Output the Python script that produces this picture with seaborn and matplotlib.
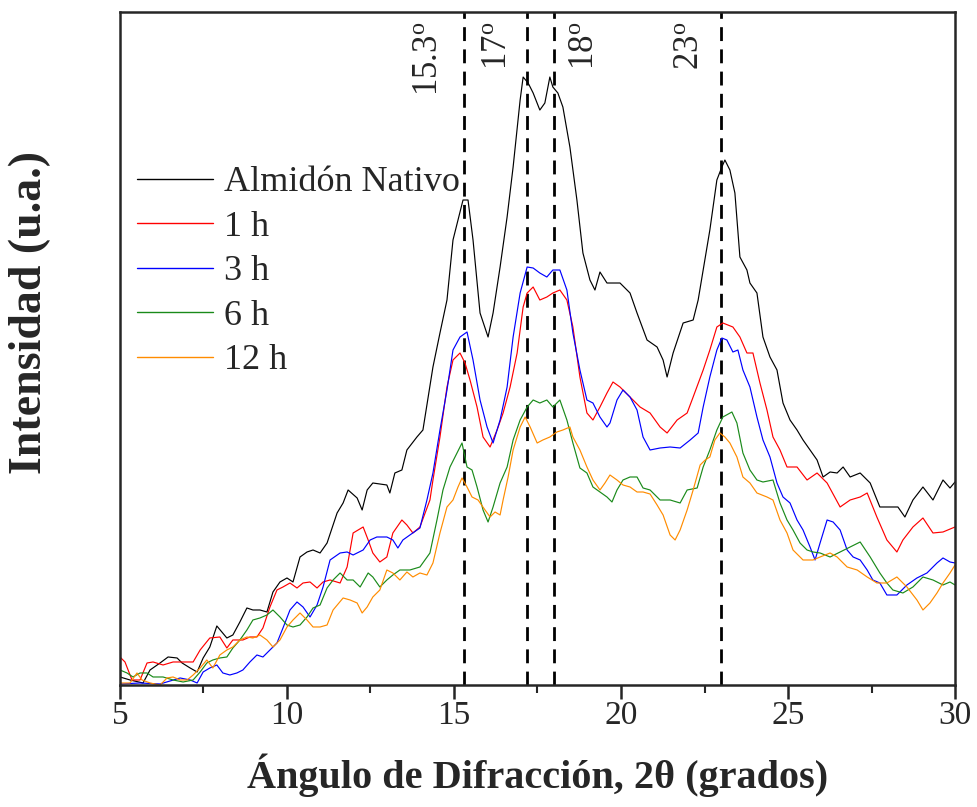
import numpy as np
import pandas as pd
import matplotlib
matplotlib.use("Agg")
import matplotlib.pyplot as plt
import seaborn as sns

# --- Diffractograms (2θ in degrees, intensity in arbitrary units) ---
nativo_2theta = [5.00, 5.30, 5.69, 5.90, 6.20, 6.44, 6.71, 6.86, 7.10, 7.31, 7.49, 7.69, 7.90, 8.05, 8.20,
                 8.38, 8.59, 8.80, 8.98, 9.19, 9.40, 9.58, 9.79, 10.00, 10.18, 10.39, 10.60, 10.78, 10.99,
                 11.20, 11.50, 11.68, 11.83, 12.10, 12.25, 12.40, 12.57, 12.99, 13.08, 13.23, 13.44, 13.59,
                 13.89, 14.07, 14.37, 14.58, 14.79, 14.97, 15.12, 15.27, 15.42, 15.57, 15.78, 16.02, 16.17,
                 16.38, 16.59, 16.77, 16.98, 17.07, 17.22, 17.37, 17.57, 17.72, 17.87, 17.96, 18.11, 18.26,
                 18.47, 18.68, 18.86, 19.07, 19.22, 19.37, 19.58, 19.97, 20.27, 20.48, 20.78, 21.08, 21.26,
                 21.38, 21.56, 21.86, 22.16, 22.31, 22.46, 22.66, 22.87, 23.02, 23.11, 23.26, 23.41, 23.56,
                 23.77, 23.86, 24.07, 24.25, 24.46, 24.67, 24.85, 25.06, 25.27, 25.45, 25.66, 25.87, 26.05,
                 26.26, 26.47, 26.65, 26.86, 27.16, 27.46, 27.75, 28.05, 28.29, 28.50, 28.74, 29.04, 29.34,
                 29.64, 29.85, 30.00]
nativo_int = [8, 5, 2, 15, 22, 28, 27, 22, 17, 13, 27, 38, 59, 53, 47,
              50, 63, 77, 75, 75, 73, 93, 103, 107, 103, 128, 133, 135, 132,
              142, 172, 182, 195, 187, 175, 195, 202, 200, 192, 212, 215, 235,
              248, 255, 318, 352, 385, 445, 465, 485, 485, 445, 372, 348, 372,
              418, 468, 518, 585, 608, 602, 592, 575, 582, 608, 598, 592, 578,
              538, 485, 432, 405, 395, 413, 402, 402, 392, 372, 345, 338, 325,
              308, 332, 362, 365, 385, 415, 455, 505, 518, 525, 515, 492, 428,
              415, 402, 392, 348, 328, 315, 282, 265, 255, 245, 235, 225, 208,
              213, 212, 218, 208, 212, 202, 178, 178, 178, 168, 185, 198, 185,
              205, 197, 203]

h1_2theta = [5.00, 5.15, 5.36, 5.60, 5.81, 5.99, 6.29, 6.59, 6.89, 7.19, 7.40, 7.69, 7.99, 8.20, 8.38,
             8.68, 8.89, 9.10, 9.28, 9.49, 9.70, 9.88, 10.09, 10.30, 10.48, 10.69, 10.90, 11.08, 11.29,
             11.59, 11.80, 11.98, 12.28, 12.43, 12.57, 12.78, 12.99, 13.17, 13.44, 13.59, 13.77, 13.98,
             14.28, 14.37, 14.58, 14.79, 14.97, 15.18, 15.33, 15.48, 15.69, 15.87, 16.08, 16.29, 16.47,
             16.68, 16.89, 17.07, 17.19, 17.37, 17.57, 17.78, 17.96, 18.17, 18.38, 18.56, 18.77, 18.98,
             19.16, 19.37, 19.58, 19.76, 19.97, 20.27, 20.57, 20.87, 21.17, 21.38, 21.68, 21.98, 22.16,
             22.46, 22.66, 22.87, 23.05, 23.35, 23.56, 23.77, 23.95, 24.16, 24.37, 24.55, 24.76, 24.97,
             25.27, 25.57, 25.87, 26.17, 26.56, 26.86, 27.16, 27.37, 27.66, 27.96, 28.26, 28.44, 28.74,
             29.04, 29.34, 29.64, 30.00]
h1_int = [28, 23, 5, 5, 22, 23, 20, 23, 23, 23, 35, 47, 48, 37, 45,
          45, 48, 48, 57, 78, 95, 98, 102, 97, 102, 103, 97, 103, 105,
          102, 118, 152, 158, 145, 132, 123, 128, 152, 165, 160, 152, 158,
          185, 205, 248, 298, 325, 332, 322, 305, 278, 248, 238, 255, 272,
          298, 332, 378, 392, 398, 385, 388, 392, 395, 385, 358, 308, 272,
          265, 278, 292, 303, 298, 288, 278, 272, 258, 252, 265, 272, 288,
          315, 335, 358, 362, 358, 348, 332, 332, 302, 275, 248, 235, 218,
          218, 205, 212, 202, 178, 185, 188, 192, 168, 145, 133, 145, 158,
          167, 152, 153, 158]

h3_2theta = [5.00, 5.60, 6.20, 6.80, 7.10, 7.31, 7.49, 7.69, 7.90, 8.08, 8.29, 8.50, 8.68, 8.89, 9.10,
             9.28, 9.49, 9.70, 9.88, 10.09, 10.30, 10.48, 10.69, 10.90, 11.08, 11.29, 11.59, 11.80,
             11.98, 12.28, 12.49, 12.69, 12.99, 13.17, 13.32, 13.47, 13.68, 13.98, 14.19, 14.37, 14.58,
             14.79, 14.97, 15.18, 15.39, 15.57, 15.78, 15.99, 16.17, 16.38, 16.59, 16.77, 16.98, 17.19,
             17.37, 17.57, 17.78, 17.96, 18.17, 18.38, 18.56, 18.77, 18.98, 19.16, 19.37, 19.58, 19.67,
             19.88, 20.06, 20.27, 20.48, 20.66, 20.87, 21.17, 21.47, 21.77, 22.07, 22.31, 22.46, 22.66,
             22.87, 23.02, 23.17, 23.35, 23.50, 23.65, 23.86, 24.07, 24.25, 24.46, 24.67, 24.85, 25.06,
             25.27, 25.45, 25.66, 25.81, 25.96, 26.17, 26.35, 26.56, 26.77, 26.95, 27.16, 27.37, 27.54,
             27.75, 27.96, 28.26, 28.56, 28.86, 29.16, 29.46, 29.64, 29.85, 30.00]
h3_int = [1, 2, 1, 7, 5, 2, 13, 17, 20, 12, 10, 12, 15, 23, 30,
          28, 35, 42, 57, 75, 83, 78, 68, 80, 98, 125, 132, 133,
          130, 135, 145, 148, 148, 145, 137, 145, 150, 157, 185, 212, 255,
          295, 335, 348, 353, 325, 285, 258, 242, 265, 298, 348, 392, 418,
          417, 412, 408, 415, 415, 395, 352, 315, 285, 282, 268, 258, 262,
          285, 295, 288, 275, 248, 235, 237, 238, 237, 245, 252, 278, 308,
          335, 347, 345, 333, 335, 315, 298, 268, 245, 228, 202, 188, 182,
          165, 155, 138, 125, 142, 165, 163, 155, 135, 128, 125, 115, 105,
          102, 90, 90, 100, 107, 112, 122, 127, 123, 122]

h6_2theta = [5.00, 5.21, 5.39, 5.60, 5.81, 5.99, 6.29, 6.59, 6.89, 7.19, 7.40, 7.60, 7.78, 7.99, 8.20,
             8.38, 8.59, 8.80, 8.98, 9.19, 9.40, 9.58, 9.79, 10.00, 10.18, 10.39, 10.60, 10.78, 10.99,
             11.20, 11.38, 11.59, 11.80, 11.98, 12.19, 12.43, 12.57, 12.78, 12.99, 13.17, 13.38, 13.68,
             13.98, 14.28, 14.49, 14.67, 14.88, 15.09, 15.24, 15.39, 15.54, 15.69, 15.87, 16.02, 16.17,
             16.38, 16.59, 16.77, 16.98, 17.19, 17.37, 17.57, 17.78, 17.96, 18.17, 18.38, 18.56, 18.77,
             18.98, 19.16, 19.37, 19.58, 19.73, 19.88, 20.06, 20.27, 20.48, 20.66, 20.87, 21.17, 21.47,
             21.77, 21.98, 22.28, 22.46, 22.66, 22.87, 23.05, 23.32, 23.47, 23.65, 23.86, 24.07, 24.25,
             24.55, 24.76, 24.97, 25.15, 25.36, 25.57, 25.75, 25.96, 26.26, 26.56, 26.86, 27.16, 27.46,
             27.75, 27.96, 28.14, 28.44, 28.74, 29.04, 29.34, 29.64, 29.85, 30.00]
h6_int = [15, 12, 8, 12, 12, 8, 8, 5, 3, 5, 13, 22, 25, 27, 28,
          37, 45, 55, 65, 67, 70, 75, 68, 60, 58, 60, 68, 77, 80,
          97, 105, 112, 105, 105, 98, 112, 108, 98, 105, 110, 115, 115,
          118, 132, 165, 195, 218, 232, 242, 218, 215, 198, 175, 163, 178,
          202, 218, 245, 265, 278, 285, 282, 285, 278, 285, 265, 242, 217,
          212, 198, 193, 188, 183, 195, 205, 208, 208, 197, 195, 185, 185,
          182, 195, 197, 218, 235, 255, 268, 273, 262, 232, 215, 205, 203,
          205, 182, 165, 155, 142, 135, 133, 132, 128, 133, 138, 143, 128,
          112, 102, 95, 92, 98, 108, 105, 100, 103, 100]

h12_2theta = [5.00, 5.30, 5.51, 5.66, 5.90, 6.20, 6.41, 6.59, 6.80, 7.01, 7.19, 7.40, 7.60, 7.78, 7.99,
              8.20, 8.38, 8.59, 8.80, 8.98, 9.19, 9.40, 9.58, 9.79, 10.00, 10.18, 10.39, 10.60, 10.78,
              10.99, 11.20, 11.38, 11.68, 11.89, 12.10, 12.25, 12.40, 12.57, 12.78, 12.99, 13.17, 13.38,
              13.59, 13.77, 13.98, 14.19, 14.37, 14.58, 14.79, 14.97, 15.12, 15.24, 15.39, 15.54, 15.72,
              15.93, 16.08, 16.23, 16.38, 16.47, 16.62, 16.77, 16.98, 17.13, 17.28, 17.49, 17.66, 17.87,
              18.08, 18.26, 18.47, 18.56, 18.77, 18.98, 19.16, 19.37, 19.52, 19.67, 19.88, 20.06, 20.27,
              20.48, 20.66, 20.87, 21.08, 21.26, 21.47, 21.62, 21.77, 21.98, 22.16, 22.37, 22.52, 22.66,
              22.81, 22.96, 23.11, 23.26, 23.47, 23.65, 23.86, 24.07, 24.37, 24.55, 24.76, 24.97, 25.15,
              25.45, 25.75, 25.96, 26.26, 26.47, 26.77, 27.07, 27.37, 27.66, 27.96, 28.26, 28.56, 28.86,
              29.04, 29.25, 29.46, 29.64, 29.85, 30.00]
h12_int = [2, 2, 12, 5, 2, 0, 7, 8, 5, 5, 10, 17, 25, 17, 30,
           35, 38, 45, 48, 47, 50, 45, 38, 45, 58, 65, 72, 65, 58,
           58, 60, 75, 87, 85, 82, 72, 78, 88, 95, 115, 112, 105,
           113, 108, 112, 110, 122, 152, 178, 185, 198, 207, 198, 188, 185,
           175, 168, 173, 170, 185, 208, 235, 258, 268, 258, 242, 245, 248,
           253, 255, 258, 248, 235, 218, 205, 195, 202, 210, 205, 200, 198,
           193, 193, 191, 180, 170, 150, 145, 155, 175, 195, 220, 225, 228,
           245, 252, 248, 242, 228, 208, 202, 192, 188, 185, 165, 152, 135,
           125, 125, 128, 132, 128, 118, 115, 108, 102, 102, 108, 98, 85,
           75, 82, 92, 102, 112, 120]

series_labels = ["Almidón Nativo", "1 h", "3 h", "6 h", "12 h"]
series_colors = ["#000000", "#ff0000", "#0000ff", "#1a8a1a", "#ff8c00"]

peak_positions = [15.3, 17.2, 18.0, 23.0]
peak_labels = [r"15.3$^{\rm o}$", r"17$^{\rm o}$", r"18$^{\rm o}$", r"23$^{\rm o}$"]
peak_label_x = [14.25, 16.3, 18.9, 22.05]

# --- long-form table for seaborn ---
frames = []
for name, xs, ys in zip(series_labels,
                        [nativo_2theta, h1_2theta, h3_2theta, h6_2theta, h12_2theta],
                        [nativo_int, h1_int, h3_int, h6_int, h12_int]):
    frames.append(pd.DataFrame({"two_theta": xs, "intensity": ys, "muestra": name}))
df = pd.concat(frames, ignore_index=True)

sns.set_style("ticks")
plt.rcParams["font.family"] = ["Liberation Serif", "DejaVu Serif"]
plt.rcParams["mathtext.fontset"] = "custom"
plt.rcParams["mathtext.rm"] = "Liberation Serif"
plt.rcParams["mathtext.it"] = "Liberation Serif:italic"
plt.rcParams["mathtext.bf"] = "Liberation Serif:bold"

fig = plt.figure(figsize=(9.77, 8.07), dpi=100)
ax = fig.add_axes([0.1228, 0.1512, 0.8547, 0.8339])

sns.lineplot(data=df, x="two_theta", y="intensity", hue="muestra",
             hue_order=series_labels, palette=series_colors,
             estimator=None, sort=False, linewidth=0.85, ax=ax)

# reference peak positions
for xp in peak_positions:
    ax.axvline(xp, color="black", linewidth=2.0, dashes=(5, 3), zorder=1)
for xl, lab in zip(peak_label_x, peak_labels):
    ax.text(xl, 0.985, lab, transform=ax.get_xaxis_transform(), rotation=90,
            ha="center", va="top", fontsize=25)

ax.set_xlim(5, 30)
ax.set_ylim(0, 673)
ax.set_xticks([5, 10, 15, 20, 25, 30])
ax.set_xticks([7.5, 12.5, 17.5, 22.5, 27.5], minor=True)
ax.set_yticks([])
ax.tick_params(axis="x", which="major", direction="out", length=10, width=1.8,
               labelsize=24, pad=1.5, top=False)
ax.tick_params(axis="x", which="minor", direction="out", length=6, width=1.5, top=False)
for sp in ax.spines.values():
    sp.set_linewidth(1.8)
    sp.set_visible(True)

ax.set_xlabel("Ángulo de Difracción, 2θ (grados)", fontsize=29, fontweight="bold", labelpad=16)
ax.set_ylabel("Intensidad (u.a.)", fontsize=33, fontweight="bold")
ax.yaxis.set_label_coords(-0.083, 0.553)

leg = ax.legend(loc="upper left", bbox_to_anchor=(0.02, 0.771), frameon=False,
                fontsize=26, handlelength=2.1, handletextpad=0.33, labelspacing=0.31,
                borderaxespad=0.0, borderpad=0.0)
for line in leg.get_lines():
    line.set_linewidth(1.0)

fig.savefig("out.png", dpi=100)
